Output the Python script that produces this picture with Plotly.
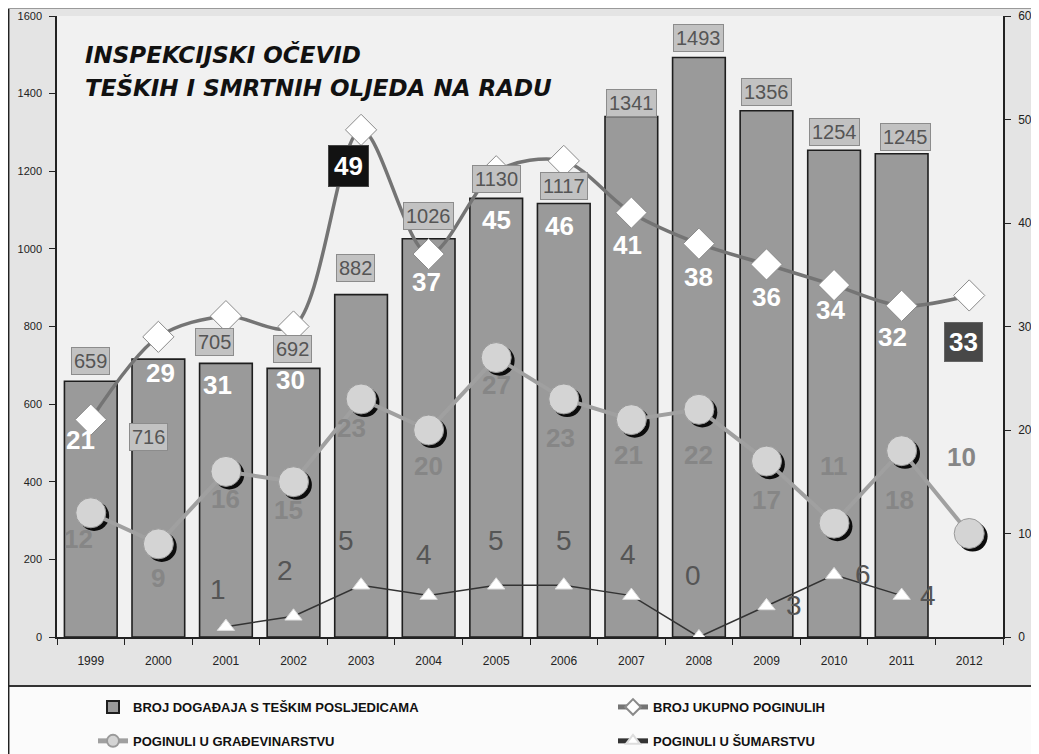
import plotly.graph_objects as go

years = [1999, 2000, 2001, 2002, 2003, 2004, 2005, 2006, 2007, 2008, 2009, 2010, 2011, 2012]
events = [659, 716, 705, 692, 882, 1026, 1130, 1117, 1341, 1493, 1356, 1254, 1245, None]
killed_total = [21, 29, 31, 30, 49, 37, 45, 46, 41, 38, 36, 34, 32, 33]
killed_construction = [12, 9, 16, 15, 23, 20, 27, 23, 21, 22, 17, 11, 18, 10]
killed_forestry = [None, None, 1, 2, 5, 4, 5, 5, 4, 0, 3, 6, 4, None]

# label offsets in pixels (dx, dy upward) - presentation only
bar_lbl_off = [(0, 20), (-10, -78), (-11, 21), (-1, 19), (-6, 27), (0, 23), (0, 19), (0, 17), (0, 14), (0, 20), (0, 19), (0, 18), (4, 17), None]
tot_lbl_off = [(-10, -20), (2, -36), (-8, -69), (-3, -53), (-13, -36), (-2, -28), (0, -49), (-4, -65), (-4, -32), (0, -33), (0, -33), (-4, -25), (-9, -31), (-6, -47)]
con_lbl_off = [(-12, -26), (0, -34), (0, -28), (-5, -28), (-10, -29), (0, -36), (0, -27), (-3, -39), (-3, -35), (0, -46), (0, -39), (0, 57), (-2, -49), (-8, 77)]
for_lbl_off = [None, None, (-8, 37), (-9, 46), (-15, 45), (-5, 41), (0, 45), (0, 45), (-3, 41), (-6, 62), (27, 0), (29, 0), (26, 0), None]

fig = go.Figure()

fig.add_trace(go.Bar(
    x=years, y=events, name="BROJ DOGAĐAJA S TEŠKIM POSLJEDICAMA",
    marker=dict(color="#9a9a9a", line=dict(color="#1e1e1e", width=1.6)),
    width=0.78, yaxis="y", legend="legend", legendgroup="a"))

fig.add_trace(go.Scatter(
    x=years, y=killed_total, name="BROJ UKUPNO POGINULIH", yaxis="y2",
    mode="lines+markers", line=dict(color="#747474", width=3.5, shape="spline", smoothing=0.9),
    marker=dict(symbol="diamond", size=24, color="white", line=dict(color="#8a8a8a", width=1)),
    legend="legend2", legendgroup="b"))

# drop shadow of the construction markers (small offset down-right)
fig.add_trace(go.Scatter(
    x=[v + 0.05 for v in years], y=[v - 0.3 for v in killed_construction], yaxis="y2",
    mode="markers", showlegend=False, hoverinfo="skip",
    marker=dict(symbol="circle", size=30, color="#0c0c0c", line=dict(width=0))))

fig.add_trace(go.Scatter(
    x=years, y=killed_construction, name="POGINULI U GRAĐEVINARSTVU", yaxis="y2",
    mode="lines+markers", line=dict(color="#a0a0a0", width=4),
    marker=dict(symbol="circle", size=30, color="#d4d4d4", line=dict(color="#9a9a9a", width=1)),
    legend="legend", legendgroup="c"))

fig.add_trace(go.Scatter(
    x=years, y=killed_forestry, name="POGINULI U ŠUMARSTVU", yaxis="y2",
    mode="lines+markers", line=dict(color="#333333", width=1.5),
    marker=dict(symbol="triangle-up", size=15, color="white", line=dict(color="#dddddd", width=1)),
    legend="legend2", legendgroup="d"))

F = "Liberation Sans, Arial"
ann = []
for i, y in enumerate(years):
    if events[i] is not None:
        dx, dy = bar_lbl_off[i]
        ann.append(dict(x=y, y=events[i], xref="x", yref="y", text=str(events[i]), showarrow=False,
                        xshift=dx, yshift=dy, font=dict(family=F, size=20, color="#555555"),
                        bgcolor="#c2c2c2", bordercolor="#8c8c8c", borderwidth=1, borderpad=2))
    dx, dy = tot_lbl_off[i]
    v = killed_total[i]
    if v == 49:
        ann.append(dict(x=y, y=v, xref="x", yref="y2", text="<b>%d</b>" % v, showarrow=False,
                        xshift=dx, yshift=dy, font=dict(family=F, size=26, color="white"),
                        bgcolor="#121212", bordercolor="#444", borderwidth=1, borderpad=5))
    elif i == len(years) - 1:
        ann.append(dict(x=y, y=v, xref="x", yref="y2", text="<b>%d</b>" % v, showarrow=False,
                        xshift=dx, yshift=dy, font=dict(family=F, size=26, color="white"),
                        bgcolor="#484848", bordercolor="#666", borderwidth=1, borderpad=4))
    else:
        ann.append(dict(x=y, y=v, xref="x", yref="y2", text="<b>%d</b>" % v, showarrow=False,
                        xshift=dx, yshift=dy, font=dict(family=F, size=26, color="white")))
    dx, dy = con_lbl_off[i]
    ann.append(dict(x=y, y=killed_construction[i], xref="x", yref="y2", text="<b>%d</b>" % killed_construction[i],
                    showarrow=False, xshift=dx, yshift=dy,
                    font=dict(family=F, size=26, color="#868686")))
    if killed_forestry[i] is not None:
        dx, dy = for_lbl_off[i]
        ann.append(dict(x=y, y=killed_forestry[i], xref="x", yref="y2", text=str(killed_forestry[i]),
                        showarrow=False, xshift=dx, yshift=dy,
                        font=dict(family=F, size=28, color="#555555")))

# page has an 8 px body margin; screen coords -> figure coords
OFF = 8
W, H = 1031, 746
L, R, T, B = 49, 36, 8, 117
pw, ph = W - L - R, H - T - B
def px(xs):
    return (xs - OFF - L) / pw
def py(ys):
    return (H - B - (ys - OFF)) / ph

ann.append(dict(x=px(83), y=py(55), xref="paper", yref="paper", xanchor="left", yanchor="middle",
                text="<b><i>INSPEKCIJSKI OČEVID</i></b>", showarrow=False,
                font=dict(family="DejaVu Sans", size=23, color="#111111")))
ann.append(dict(x=px(83), y=py(88), xref="paper", yref="paper", xanchor="left", yanchor="middle",
                text="<b><i>TEŠKIH I SMRTNIH OLJEDA NA RADU</i></b>", showarrow=False,
                font=dict(family="DejaVu Sans", size=23, color="#111111")))

shapes = [
    dict(type="rect", xref="paper", yref="paper", x0=px(8), x1=px(1039), y0=py(754), y1=py(686),
         fillcolor="#fbfbfb", line=dict(width=0), layer="below"),
    dict(type="line", xref="paper", yref="paper", x0=px(8), x1=px(1039), y0=py(686), y1=py(686),
         line=dict(color="#333333", width=2)),
    dict(type="line", xref="paper", yref="paper", x0=px(8.7), x1=px(8.7), y0=py(754), y1=py(8),
         line=dict(color="#222222", width=1.5)),
    dict(type="line", xref="paper", yref="paper", x0=px(8), x1=px(1039), y0=py(8.5), y1=py(8.5),
         line=dict(color="#9a9a9a", width=1)),
]

legend_font = dict(family="Liberation Sans, Arial", size=13, color="#111111", weight="bold")

fig.update_layout(
    width=W, height=H,
    margin=dict(l=L, r=R, t=T, b=B, autoexpand=False),
    paper_bgcolor="#e4e4e4",
    plot_bgcolor="#f1f1f1",
    showlegend=True,
    legend=dict(orientation="v", x=px(93), y=py(692), xanchor="left", yanchor="top",
                tracegroupgap=14, font=legend_font, bgcolor="rgba(0,0,0,0)", itemsizing="constant"),
    legend2=dict(orientation="v", x=px(613), y=py(692), xanchor="left", yanchor="top",
                 tracegroupgap=14, font=legend_font, bgcolor="rgba(0,0,0,0)", itemsizing="constant"),
    xaxis=dict(range=[1998.5, 2012.5], tickvals=years, ticktext=[str(v) for v in years],
               ticks="", showline=True, linecolor="#222222", linewidth=1.5, showgrid=False, zeroline=False,
               ticklabelstandoff=12,
               minor=dict(tickvals=[v - 0.5 for v in years] + [2012.5], ticks="outside", ticklen=6,
                          tickcolor="#222222", showgrid=False),
               tickfont=dict(family=F, size=12, color="#222222")),
    yaxis=dict(range=[0, 1600], dtick=200, showgrid=False, showline=True, linecolor="#222222",
               linewidth=1.5, ticks="outside", ticklen=6, tickcolor="#222222", zeroline=False,
               ticklabelstandoff=5, tickfont=dict(family=F, size=11, color="#222222")),
    yaxis2=dict(range=[0, 60], dtick=10, overlaying="y", side="right", showgrid=False, showline=True,
                linecolor="#222222", linewidth=1.5, ticks="outside", ticklen=6, tickcolor="#222222",
                zeroline=False, ticklabelstandoff=5, tickfont=dict(family=F, size=12, color="#222222")),
    annotations=ann,
    shapes=shapes,
)

fig.write_html("out.html")
